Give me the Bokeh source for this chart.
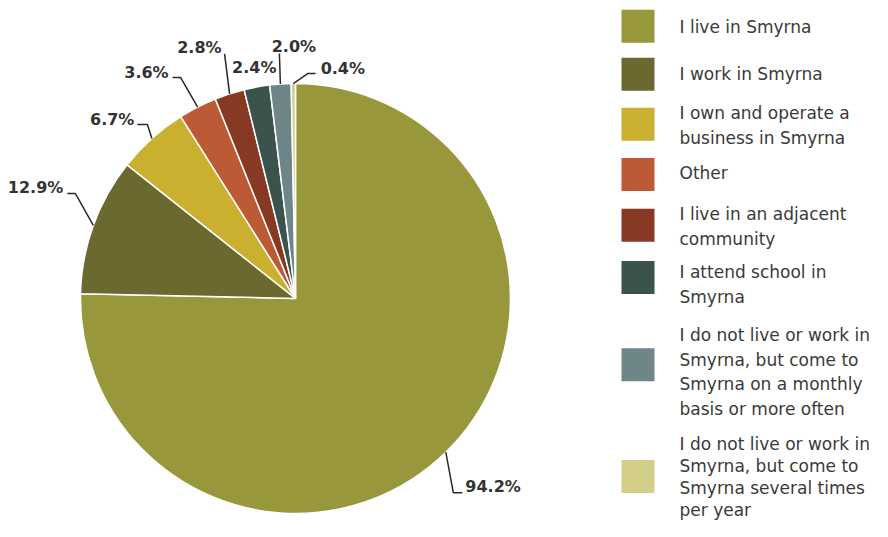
import math
from bokeh.plotting import figure
from bokeh.models import Range1d, ColumnDataSource
from bokeh.embed import file_html
from bokeh.resources import INLINE
from bokeh.core.properties import value

# ---------------- data ----------------
categories = [
    "I live in Smyrna",
    "I work in Smyrna",
    "I own and operate a business in Smyrna",
    "Other",
    "I live in an adjacent community",
    "I attend school in Smyrna",
    "I do not live or work in Smyrna, but come to Smyrna on a monthly basis or more often",
    "I do not live or work in Smyrna, but come to Smyrna several times per year",
]
legend_lines = [
    ["I live in Smyrna"],
    ["I work in Smyrna"],
    ["I own and operate a", "business in Smyrna"],
    ["Other"],
    ["I live in an adjacent", "community"],
    ["I attend school in", "Smyrna"],
    ["I do not live or work in", "Smyrna, but come to", "Smyrna on a monthly", "basis or more often"],
    ["I do not live or work in", "Smyrna, but come to", "Smyrna several times", "per year"],
]
percent = [94.2, 12.9, 6.7, 3.6, 2.8, 2.4, 2.0, 0.4]
percent_labels = ["94.2%", "12.9%", "6.7%", "3.6%", "2.8%", "2.4%", "2.0%", "0.4%"]
colors = ["#98973B", "#6B692F", "#CBAF2F", "#BC5A35", "#873923", "#3B524D", "#6F8689", "#D4CF88"]

# ---------------- layout (picture pixels, y down) ----------------
W, H = 872, 521
def X(px):
    return px
def Y(py):
    return H - py

PIE_CX, PIE_CY, PIE_R = 295, 298, 215
# per label: elbow offset from slice edge (dx, dy), horizontal tail, text offset from line end, align
label_layout = [
    (7.5, 40.5, 9, 3, -6, "left"),
    (-18, -32, -8, -4, -5.5, "right"),
    (-4.5, -14, -10, -3, -5, "right"),
    (-17, -29.5, -8, -4, -5.5, "right"),
    (-5, -40, 0, -3, -6.5, "right"),
    (0, 0, 0, -2.5, -20, "center"),
    (-1, -30.5, 0, 14.5, -7.5, "center"),
    (14.3, -10, 8, 5, -5, "left"),
]
SQ_X, SQ_SIZE = 637.5, 33
square_y = [25.8, 73.8, 123.7, 174, 224.7, 277, 364.2, 476]
text_x = 679
text_centers = [
    [26.3],
    [73.5],
    [112.8, 137.3],
    [172.8],
    [213.8, 238.3],
    [271.8, 296.3],
    [334.8, 359.3, 383.8, 408.3],
    [443, 465, 487, 509],   # last item tightened so it fits the canvas
]

# ---------------- figure ----------------
p = figure(width=W, height=H, output_backend="svg", toolbar_location=None,
           x_range=Range1d(0, W), y_range=Range1d(0, H),
           x_axis_type=None, y_axis_type=None, min_border=0,
           background_fill_color="white", border_fill_color="white")
p.outline_line_color = None
p.grid.visible = False

total = sum(percent)
starts, ends, mids = [], [], []
cum = 0.0
for v in percent:
    a0 = math.pi / 2 - 2 * math.pi * cum / total
    a1 = math.pi / 2 - 2 * math.pi * (cum + v) / total
    starts.append(a0)
    ends.append(a1)
    mids.append((a0 + a1) / 2)
    cum += v

src = ColumnDataSource(dict(start=starts, end=ends, color=colors, cat=categories))
p.wedge(x=X(PIE_CX), y=Y(PIE_CY), radius=PIE_R, start_angle="start", end_angle="end",
        direction="clock", fill_color="color", line_color="white", line_width=1.5, source=src)

# leader lines and labels
lx, ly, tx, ty, tt, ta = [], [], [], [], [], []
for m, lab, lay in zip(mids, percent_labels, label_layout):
    ex = PIE_CX + PIE_R * math.cos(m)
    ey = PIE_CY - PIE_R * math.sin(m)
    dx, dy, tail, ox, oy, align = lay
    bx, by = ex + dx, ey + dy
    cx, cy = bx + tail, by
    if abs(dx) + abs(dy) > 0:
        lx.append([X(ex), X(bx), X(cx)])
        ly.append([Y(ey), Y(by), Y(cy)])
    tx.append(X(cx + ox))
    ty.append(Y(cy + oy))
    tt.append(lab)
    ta.append(align)

p.multi_line(xs=lx, ys=ly, line_color="#2a2a2a", line_width=1.5)
for x_, y_, t_, a_ in zip(tx, ty, tt, ta):
    p.text(x=[x_], y=[y_], text=[t_], text_align=a_, text_baseline="middle",
           text_font=value("DejaVu Sans"), text_font_style="bold",
           text_font_size="16px", text_color="#333333")

# legend
p.rect(x=[X(SQ_X)] * len(colors), y=[Y(v) for v in square_y], width=SQ_SIZE, height=SQ_SIZE,
       fill_color=colors, line_color=None)
lt_x, lt_y, lt_t = [], [], []
for lines, cents in zip(legend_lines, text_centers):
    for t_, c_ in zip(lines, cents):
        lt_x.append(X(text_x))
        lt_y.append(Y(c_))
        lt_t.append(t_)
p.text(x=lt_x, y=lt_y, text=lt_t, text_align="left", text_baseline="middle",
       text_font=value("DejaVu Sans"), text_font_size="17px", text_color="#3a3a3a")

open("out.html", "w").write(file_html(p, INLINE))
